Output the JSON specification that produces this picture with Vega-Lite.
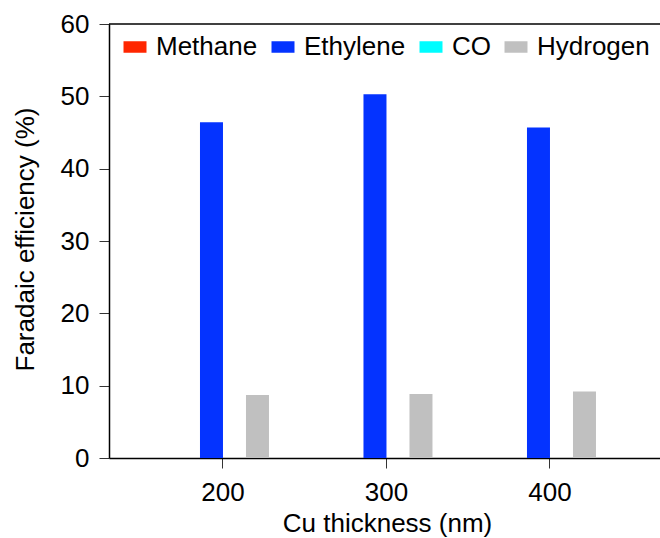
{
  "$schema": "https://vega.github.io/schema/vega-lite/v6.json",
  "width": 551,
  "height": 434,
  "autosize": {"type": "none"},
  "padding": {"left": 109, "top": 24, "right": 0, "bottom": 80},
  "background": "white",
  "config": {
    "view": {"stroke": null},
    "font": "Liberation Sans",
    "axis": {
      "domainColor": "black",
      "domainWidth": 1.5,
      "tickColor": "#333333",
      "tickWidth": 1,
      "tickSize": 10,
      "labelFont": "Liberation Sans",
      "titleFont": "Liberation Sans",
      "labelFontSize": 26,
      "titleFontSize": 26,
      "labelColor": "black",
      "titleColor": "black",
      "titleFontWeight": "normal",
      "grid": false
    }
  },
  "layer": [
    {
      "data": {
        "values": [
          {"thickness": "200", "gas": "Methane", "fe": 0},
          {"thickness": "200", "gas": "Ethylene", "fe": 46.4},
          {"thickness": "200", "gas": "CO", "fe": 0},
          {"thickness": "200", "gas": "Hydrogen", "fe": 8.7},
          {"thickness": "300", "gas": "Methane", "fe": 0},
          {"thickness": "300", "gas": "Ethylene", "fe": 50.3},
          {"thickness": "300", "gas": "CO", "fe": 0},
          {"thickness": "300", "gas": "Hydrogen", "fe": 8.85},
          {"thickness": "400", "gas": "Methane", "fe": 0},
          {"thickness": "400", "gas": "Ethylene", "fe": 45.7},
          {"thickness": "400", "gas": "CO", "fe": 0},
          {"thickness": "400", "gas": "Hydrogen", "fe": 9.2}
        ]
      },
      "mark": {"type": "bar"},
      "encoding": {
        "x": {
          "field": "thickness",
          "type": "nominal",
          "scale": {"paddingInner": 0.4373, "paddingOuter": 0.4037, "align": 0.515},
          "axis": {
            "title": "Cu thickness (nm)",
            "labelAngle": 0,
            "labelPadding": 11,
            "titleX": 278,
            "titleY": 73,
            "titleBaseline": "alphabetic"
          }
        },
        "xOffset": {
          "field": "gas",
          "type": "nominal",
          "sort": ["Methane", "Ethylene", "CO", "Hydrogen"],
          "scale": {"paddingInner": 0, "paddingOuter": 0}
        },
        "y": {
          "field": "fe",
          "type": "quantitative",
          "scale": {"domain": [0, 60], "nice": false},
          "axis": {
            "title": "Faradaic efficiency (%)",
            "values": [0, 10, 20, 30, 40, 50, 60],
            "labelPadding": 10,
            "titleX": -76,
            "titleY": 215,
            "titleBaseline": "alphabetic"
          }
        },
        "color": {
          "field": "gas",
          "type": "nominal",
          "sort": ["Methane", "Ethylene", "CO", "Hydrogen"],
          "scale": {
            "domain": ["Methane", "Ethylene", "CO", "Hydrogen"],
            "range": ["#FF2600", "#0433FF", "#00FDFF", "#C0C0C0"]
          },
          "legend": {
            "orient": "none",
            "legendX": 13,
            "legendY": 10,
            "direction": "horizontal",
            "columns": 4,
            "title": null,
            "padding": 0,
            "symbolType": "M-1,-0.5H1V0.5H-1Z",
            "symbolSize": 529,
            "symbolStrokeWidth": 0,
            "symbolOpacity": 1,
            "labelFont": "Liberation Sans",
            "labelFontSize": 26,
            "labelColor": "black",
            "labelOffset": 8,
            "columnPadding": 12
          }
        }
      }
    },
    {
      "data": {"values": [{}]},
      "mark": {"type": "rule", "color": "black", "strokeWidth": 1.5},
      "encoding": {"y": {"datum": 60}}
    }
  ]
}
